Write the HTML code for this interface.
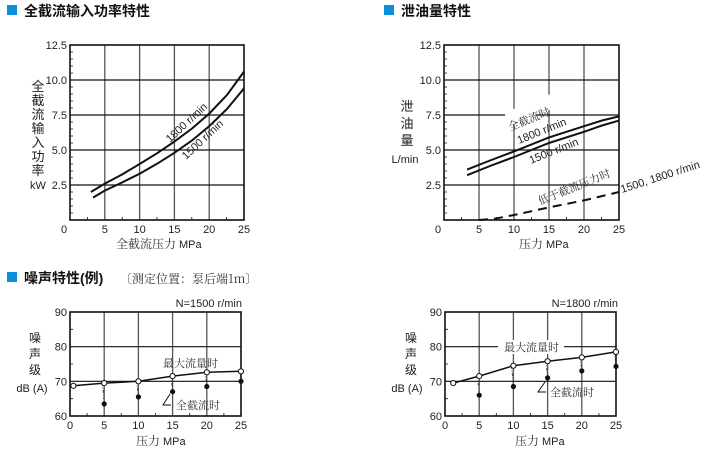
<!DOCTYPE html>
<html><head><meta charset="utf-8"><style>
html,body{margin:0;padding:0;background:#fff}
svg{display:block}
text{font-family:"Liberation Sans","Noto Sans CJK SC",sans-serif;fill:#222}
.t{font-family:"Liberation Sans","Noto Sans CJK SC",sans-serif;font-weight:bold;font-size:14px;fill:#111}
.s{font-family:"Noto Serif CJK SC","Liberation Serif",serif;font-size:12px;fill:#333}
.n{font-size:11px;fill:#222}
.g{stroke:#555;stroke-width:1.3}
.h{stroke:#111;stroke-width:1.2}
.c{fill:none;stroke:#111;stroke-width:2}
.ax{fill:none;stroke:#111;stroke-width:1.6}
.tk{stroke:#111;stroke-width:0.8}
</style></head><body>
<svg width="706" height="452" viewBox="0 0 706 452">
<!-- Titles -->
<rect x="7" y="5" width="10" height="10" fill="#0a8fd8"/>
<text class="t" x="24" y="16">全截流输入功率特性</text>
<rect x="384" y="5" width="10" height="10" fill="#0a8fd8"/>
<text class="t" x="401" y="16">泄油量特性</text>
<rect x="7" y="272" width="10" height="10" fill="#0a8fd8"/>
<text class="t" x="24" y="283">噪声特性(例)</text>
<text class="s" x="120" y="283" style="font-size:12px">〔测定位置：泵后端1m〕</text>

<!-- Chart 1 -->
<g>
<line class="g" x1="104.8" y1="45" x2="104.8" y2="220"/><line class="g" x1="139.6" y1="45" x2="139.6" y2="220"/>
<line class="g" x1="174.4" y1="45" x2="174.4" y2="220"/><line class="g" x1="209.2" y1="45" x2="209.2" y2="220"/>
<line class="h" x1="70" y1="80" x2="244" y2="80"/><line class="h" x1="70" y1="115" x2="244" y2="115"/>
<line class="h" x1="70" y1="150" x2="244" y2="150"/><line class="h" x1="70" y1="185" x2="244" y2="185"/>
<path class="tk" d="M70 52h3M70 59h3M70 66h3M70 73h3M70 87h3M70 94h3M70 101h3M70 108h3M70 122h3M70 129h3M70 136h3M70 143h3M70 157h3M70 164h3M70 171h3M70 178h3M70 192h3M70 199h3M70 206h3M70 213h3M87.4 220v-3M122.2 220v-3M157 220v-3M191.8 220v-3M226.6 220v-3"/>
<rect class="ax" x="70" y="45" width="174" height="175"/>
<polyline class="c" points="90.9,192 104.8,183.6 122,174.5 139.6,164 157,153.3 174.4,141.6 192,128.5 209.2,113.6 227,95 244,71.6"/>
<polyline class="c" points="93,197.6 104.8,190.6 122,182.5 139.6,173.8 157,163.8 174.4,152.8 192,140.5 209.2,126.2 227,109 244,88.4"/>
<g class="n" text-anchor="end">
<text x="67" y="49">12.5</text><text x="67" y="84">10.0</text><text x="67" y="119">7.5</text><text x="67" y="154">5.0</text><text x="67" y="189">2.5</text></g>
<g class="n" text-anchor="middle">
<text x="64" y="233">0</text><text x="104.8" y="233">5</text><text x="139.6" y="233">10</text><text x="174.4" y="233">15</text><text x="209.2" y="233">20</text><text x="244" y="233">25</text></g>
<g class="s" text-anchor="middle" style="font-size:13px"><text x="38" y="91">全</text><text x="38" y="105">截</text><text x="38" y="119">流</text><text x="38" y="133">输</text><text x="38" y="147">入</text><text x="38" y="161">功</text><text x="38" y="175">率</text></g>
<text class="n" x="38" y="189" text-anchor="middle">kW</text>
<text class="s" x="116" y="248">全截流压力</text><text class="n" x="179" y="248">MPa</text>
<text class="n" transform="translate(170,143) rotate(-43)">1800 r/min</text>
<text class="n" transform="translate(186,160) rotate(-43)">1500 r/min</text>
</g>

<!-- Chart 2 -->
<g>
<line class="g" x1="479" y1="45" x2="479" y2="220"/><line class="g" x1="514" y1="45" x2="514" y2="220"/>
<line class="g" x1="549" y1="45" x2="549" y2="220"/><line class="g" x1="584" y1="45" x2="584" y2="220"/>
<line class="h" x1="444" y1="80" x2="619" y2="80"/><line class="h" x1="444" y1="115" x2="619" y2="115"/>
<line class="h" x1="444" y1="150" x2="619" y2="150"/><line class="h" x1="444" y1="185" x2="619" y2="185"/>
<path class="tk" d="M444 52h3M444 59h3M444 66h3M444 73h3M444 87h3M444 94h3M444 101h3M444 108h3M444 122h3M444 129h3M444 136h3M444 143h3M444 157h3M444 164h3M444 171h3M444 178h3M444 192h3M444 199h3M444 206h3M444 213h3M461.5 220v-3M496.5 220v-3M531.5 220v-3M566.5 220v-3M601.5 220v-3"/>
<rect class="ax" x="444" y="45" width="175" height="175"/>
<rect x="505" y="103" width="50" height="14" fill="#fff" transform="rotate(-22 530 110)"/>
<polyline class="c" points="467.1,169.6 490,160.5 514,151.4 549,137.4 584,126.2 602,120.5 619,116.4"/>
<polyline class="c" points="467.1,175.2 490,166 514,157 549,143 584,131.8 602,125.5 619,120.6"/>
<polyline fill="none" stroke="#111" stroke-width="2" stroke-dasharray="9,6" points="479,220 496,218.5 514,215 549,207.4 584,200.4 619,192"/>
<g class="n" text-anchor="end">
<text x="441" y="49">12.5</text><text x="441" y="84">10.0</text><text x="441" y="119">7.5</text><text x="441" y="154">5.0</text><text x="441" y="189">2.5</text></g>
<g class="n" text-anchor="middle">
<text x="438" y="233">0</text><text x="479" y="233">5</text><text x="514" y="233">10</text><text x="549" y="233">15</text><text x="584" y="233">20</text><text x="619" y="233">25</text></g>
<g class="s" text-anchor="middle" style="font-size:13px"><text x="407" y="111">泄</text><text x="407" y="128">油</text><text x="407" y="145">量</text></g>
<text class="n" x="405" y="163" text-anchor="middle">L/min</text>
<text class="s" x="519" y="248">压力</text><text class="n" x="546" y="248">MPa</text>
<text class="s" style="font-size:11px" transform="translate(510,131) rotate(-22)">全截流时</text>
<text class="n" transform="translate(519,144) rotate(-22)">1800 r/min</text>
<text class="n" transform="translate(531,164) rotate(-22)">1500 r/min</text>
<text class="s" style="font-size:11px" transform="translate(540,205) rotate(-22)">低于截流压力时</text>
<text class="n" transform="translate(622,193) rotate(-18)">1500, 1800 r/min</text>
</g>

<!-- Chart 3 -->
<g>
<line class="g" x1="104.2" y1="312" x2="104.2" y2="416"/><line class="g" x1="138.4" y1="312" x2="138.4" y2="416"/>
<line class="g" x1="172.6" y1="312" x2="172.6" y2="416"/><line class="g" x1="206.8" y1="312" x2="206.8" y2="416"/>
<line class="h" x1="70" y1="346.7" x2="241" y2="346.7"/><line class="h" x1="70" y1="381.3" x2="241" y2="381.3"/>
<path class="tk" d="M70 329.3h3M70 364h3M70 398.7h3M87.1 416v-3M121.3 416v-3M155.5 416v-3M189.7 416v-3M223.9 416v-3"/>
<rect class="ax" x="70" y="312" width="171" height="104"/>
<g stroke="#333" stroke-width="0.8" stroke-dasharray="3,1.5,1,1.5" fill="none">
<path d="M102.5 383 L104.2 403.9M136.5 381 L138.4 396.9M171 376 L172.6 391.7M205 372 L206.8 386.5M239.5 371 L241 381.3"/></g>
<polyline fill="none" stroke="#111" stroke-width="1.5" points="73.4,385.8 104.2,383.1 138.4,381.3 172.6,376.1 206.8,372.3 241,371.3"/>
<g fill="#fff" stroke="#111" stroke-width="1"><circle cx="73.4" cy="385.8" r="2.6"/><circle cx="104.2" cy="383.1" r="2.6"/><circle cx="138.4" cy="381.3" r="2.6"/><circle cx="172.6" cy="376.1" r="2.6"/><circle cx="206.8" cy="372.3" r="2.6"/><circle cx="241" cy="371.3" r="2.6"/></g>
<g fill="#111"><circle cx="104.2" cy="403.9" r="2.6"/><circle cx="138.4" cy="396.9" r="2.6"/><circle cx="172.6" cy="391.7" r="2.6"/><circle cx="206.8" cy="386.5" r="2.6"/><circle cx="241" cy="381.3" r="2.6"/></g>
<path d="M170 394 L163 405 L171 405" fill="none" stroke="#111" stroke-width="1"/>
<g class="n" text-anchor="end"><text x="67" y="316">90</text><text x="67" y="350.7">80</text><text x="67" y="385.3">70</text><text x="67" y="420">60</text></g>
<g class="n" text-anchor="middle"><text x="70" y="429">0</text><text x="104.2" y="429">5</text><text x="138.4" y="429">10</text><text x="172.6" y="429">15</text><text x="206.8" y="429">20</text><text x="241" y="429">25</text></g>
<g class="s" text-anchor="middle"><text x="35" y="342">噪</text><text x="35" y="358">声</text><text x="35" y="374">级</text></g>
<text class="n" x="32" y="392" text-anchor="middle">dB (A)</text>
<text class="n" x="242" y="307" text-anchor="end">N=1500 r/min</text>
<text class="s" x="163" y="367" style="font-size:11px">最大流量时</text>
<text class="s" x="176" y="409" style="font-size:11px">全截流时</text>
<text class="s" x="136" y="445">压力</text><text class="n" x="163" y="445">MPa</text>
</g>

<!-- Chart 4 -->
<g>
<line class="g" x1="479.2" y1="312" x2="479.2" y2="416"/><line class="g" x1="513.4" y1="312" x2="513.4" y2="416"/>
<line class="g" x1="547.6" y1="312" x2="547.6" y2="416"/><line class="g" x1="581.8" y1="312" x2="581.8" y2="416"/>
<line class="h" x1="445" y1="346.7" x2="616" y2="346.7"/><line class="h" x1="445" y1="381.3" x2="616" y2="381.3"/>
<path class="tk" d="M445 329.3h3M445 364h3M445 398.7h3M462.1 416v-3M496.3 416v-3M530.5 416v-3M564.7 416v-3M598.9 416v-3"/>
<rect class="ax" x="445" y="312" width="171" height="104"/>
<rect x="498" y="340" width="66" height="14" fill="#fff"/>
<g stroke="#333" stroke-width="0.8" stroke-dasharray="3,1.5,1,1.5" fill="none">
<path d="M477.5 376 L479.2 395.2M511.5 366 L513.4 386.5M546 361 L547.6 377.9M580 357.5 L581.8 370.9M614.5 352 L616 366.4"/></g>
<polyline fill="none" stroke="#111" stroke-width="1.5" points="453.2,383.1 479.2,376.1 513.4,365.7 547.6,361.2 581.8,357.4 616,351.9"/>
<g fill="#fff" stroke="#111" stroke-width="1"><circle cx="453.2" cy="383.1" r="2.6"/><circle cx="479.2" cy="376.1" r="2.6"/><circle cx="513.4" cy="365.7" r="2.6"/><circle cx="547.6" cy="361.2" r="2.6"/><circle cx="581.8" cy="357.4" r="2.6"/><circle cx="616" cy="351.9" r="2.6"/></g>
<g fill="#111"><circle cx="479.2" cy="395.2" r="2.6"/><circle cx="513.4" cy="386.5" r="2.6"/><circle cx="547.6" cy="377.9" r="2.6"/><circle cx="581.8" cy="370.9" r="2.6"/><circle cx="616" cy="366.4" r="2.6"/></g>
<path d="M545 382 L538 392 L546 392" fill="none" stroke="#111" stroke-width="1"/>
<g class="n" text-anchor="end"><text x="442" y="316">90</text><text x="442" y="350.7">80</text><text x="442" y="385.3">70</text><text x="442" y="420">60</text></g>
<g class="n" text-anchor="middle"><text x="445" y="429">0</text><text x="479.2" y="429">5</text><text x="513.4" y="429">10</text><text x="547.6" y="429">15</text><text x="581.8" y="429">20</text><text x="616" y="429">25</text></g>
<g class="s" text-anchor="middle"><text x="411" y="342">噪</text><text x="411" y="358">声</text><text x="411" y="374">级</text></g>
<text class="n" x="407" y="392" text-anchor="middle">dB (A)</text>
<text class="n" x="618" y="307" text-anchor="end">N=1800 r/min</text>
<text class="s" x="504" y="351" style="font-size:11px">最大流量时</text>
<text class="s" x="550" y="396" style="font-size:11px">全截流时</text>
<text class="s" x="515" y="445">压力</text><text class="n" x="542" y="445">MPa</text>
</g>
</svg>
</body></html>
